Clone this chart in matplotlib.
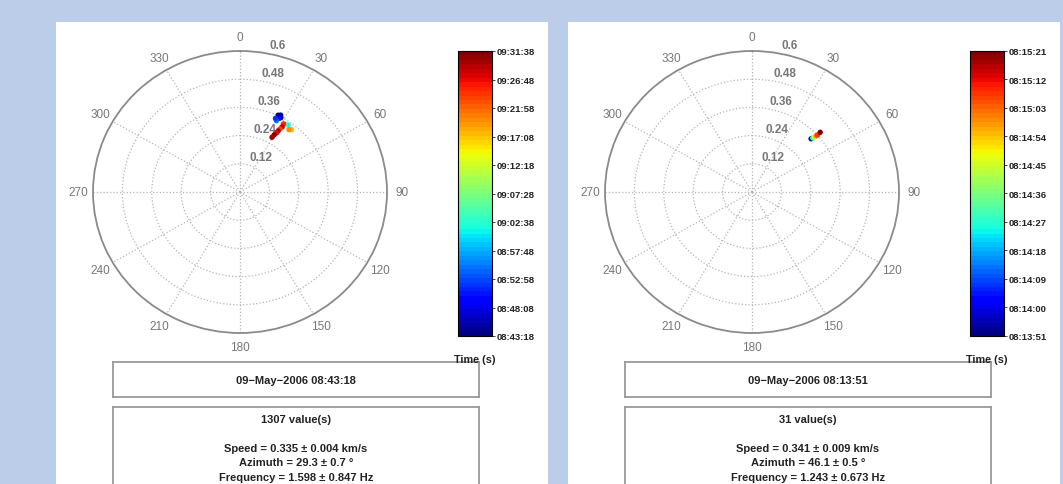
import numpy as np
import matplotlib.pyplot as plt
import matplotlib as mpl
from matplotlib.patches import Rectangle

plt.rcParams['font.family'] = ['Liberation Sans', 'DejaVu Sans']

W, H = 1063, 485

# ---- data ----
ring_values = [0.12, 0.24, 0.36, 0.48, 0.6]
ring_labels = ["0.12", "0.24", "0.36", "0.48", "0.6"]
angle_labels = [0, 30, 60, 90, 120, 150, 180, 210, 240, 270, 300, 330]

left_theta = [26.9, 25.5, 27.8, 27.1, 26.1, 24.8, 34.5, 33.0, 38.4, 37.0, 31.5, 31.8, 31.3, 30.9, 30.7, 29.8, 29.3]
left_r = [0.367, 0.362, 0.358, 0.352, 0.338, 0.345, 0.346, 0.342, 0.338, 0.332, 0.340, 0.326, 0.314, 0.303, 0.292, 0.280, 0.267]
left_time = ["08:43:18", "08:44:30", "08:46:00", "08:48:08", "08:55:00", "08:52:00", "09:01:00",
             "09:04:00", "09:18:00", "09:20:00", "09:25:00", "09:28:30", "09:24:00", "09:30:00",
             "09:26:30", "09:31:00", "09:29:38"]
left_cbar = ["08:43:18", "08:48:08", "08:52:58", "08:57:48", "09:02:38", "09:07:28",
             "09:12:18", "09:17:08", "09:21:58", "09:26:48", "09:31:38"]
left_head = "09\u2212May\u22122006 08:43:18"
left_count = "1307 value(s)"
left_stats = ["Speed = 0.335 \u00b1 0.004 km/s", "Azimuth = 29.3 \u00b1 0.7 \u00b0", "Frequency = 1.598 \u00b1 0.847 Hz"]

right_theta = [46.8, 47.2, 47.6, 47.6, 47.8, 47.6]
right_r = [0.331, 0.338, 0.347, 0.355, 0.361, 0.377]
right_time = ["08:13:51", "08:14:30", "08:14:50", "08:15:00", "08:15:08", "08:15:21"]
right_cbar = ["08:13:51", "08:14:00", "08:14:09", "08:14:18", "08:14:27", "08:14:36",
              "08:14:45", "08:14:54", "08:15:03", "08:15:12", "08:15:21"]
right_head = "09\u2212May\u22122006 08:13:51"
right_count = "31 value(s)"
right_stats = ["Speed = 0.341 \u00b1 0.009 km/s", "Azimuth = 46.1 \u00b1 0.5 \u00b0", "Frequency = 1.243 \u00b1 0.673 Hz"]


def fx(px):
    return px / W

def fy(py):
    return 1 - py / H

def to_sec(s):
    h, m, sec = map(int, s.split(':'))
    return h * 3600 + m * 60 + sec


def draw_panel(fig, x0, theta, r, times, cbar_labels, head, count, stats):
    # white panel
    fig.add_artist(Rectangle((fx(x0), fy(485)), fx(492), fy(23) - fy(485),
                             transform=fig.transFigure, facecolor='white',
                             edgecolor='none', zorder=-5))
    cmap = plt.get_cmap('jet', 64)
    secs = [to_sec(t) for t in cbar_labels]
    norm = mpl.colors.Normalize(vmin=secs[0], vmax=secs[-1])

    ax = fig.add_axes([fx(x0 + 37), fy(334), fx(294), fy(52) - fy(334)], projection='polar')
    ax.set_aspect('auto')
    ax.set_theta_zero_location('N')
    ax.set_theta_direction(-1)
    ax.set_ylim(0, 0.6)
    ax.set_thetagrids(angle_labels, labels=[])
    ax.set_rgrids(ring_values[:-1], labels=[])
    ax.grid(True, linestyle=':', color='#b4b4b4', linewidth=0.9)
    ax.spines['polar'].set_color('#8a8a8a')
    ax.spines['polar'].set_linewidth(1.3)
    ax.tick_params(length=0)

    for a in angle_labels:
        ax.text(np.deg2rad(a), 0.66, str(a), ha='center', va='center',
                color='#777777', fontsize=8.5)
    for val, lab in zip(ring_values, ring_labels):
        ax.annotate(lab, xy=(np.deg2rad(8), val), xytext=(17, 7),
                    textcoords='offset pixels', ha='center', va='center',
                    color='#777777', fontsize=8.5, fontweight='bold')

    tsec = [to_sec(t) for t in times]
    ax.scatter(np.deg2rad(theta), r, c=tsec, cmap=cmap, norm=norm, s=15,
               edgecolors='none', zorder=5)

    # colorbar
    cax = fig.add_axes([fx(x0 + 402), fy(337), fx(34), fy(52) - fy(337)])
    sm = mpl.cm.ScalarMappable(norm=norm, cmap=cmap)
    cb = fig.colorbar(sm, cax=cax)
    cb.set_ticks(secs)
    cb.set_ticklabels(cbar_labels)
    cb.outline.set_linewidth(0.8)
    cb.ax.tick_params(labelsize=6.8, length=2, width=0.6, pad=1, colors='#222222')
    for t in cb.ax.get_yticklabels():
        t.set_fontweight('bold')
    fig.text(fx(x0 + 419), fy(360), "Time (s)", ha='center', va='center',
             fontsize=7.8, fontweight='bold', color='#222222')

    # text boxes
    for top, bot in [(363, 398), (408, 497)]:
        bx = fig.add_axes([fx(x0 + 57), fy(bot), fx(366), fy(top) - fy(bot)])
        bx.set_xticks([])
        bx.set_yticks([])
        for sp in bx.spines.values():
            sp.set_color('#9a9a9a')
            sp.set_linewidth(1.3)
    cx = x0 + 240
    fig.text(fx(cx), fy(381), head, ha='center', va='center', fontsize=8, fontweight='bold', color='#222222')
    fig.text(fx(cx), fy(420), count, ha='center', va='center', fontsize=8, fontweight='bold', color='#222222')
    for i, s in enumerate(stats):
        fig.text(fx(cx), fy(449 + 14.5 * i), s, ha='center', va='center',
                 fontsize=8, fontweight='bold', color='#222222')


fig = plt.figure(figsize=(W / 100, H / 100), dpi=100)
fig.patch.set_facecolor('#bccde9')

draw_panel(fig, 56, left_theta, left_r, left_time, left_cbar, left_head, left_count, left_stats)
draw_panel(fig, 568, right_theta, right_r, right_time, right_cbar, right_head, right_count, right_stats)

fig.savefig('out.png', dpi=100, facecolor=fig.get_facecolor())
